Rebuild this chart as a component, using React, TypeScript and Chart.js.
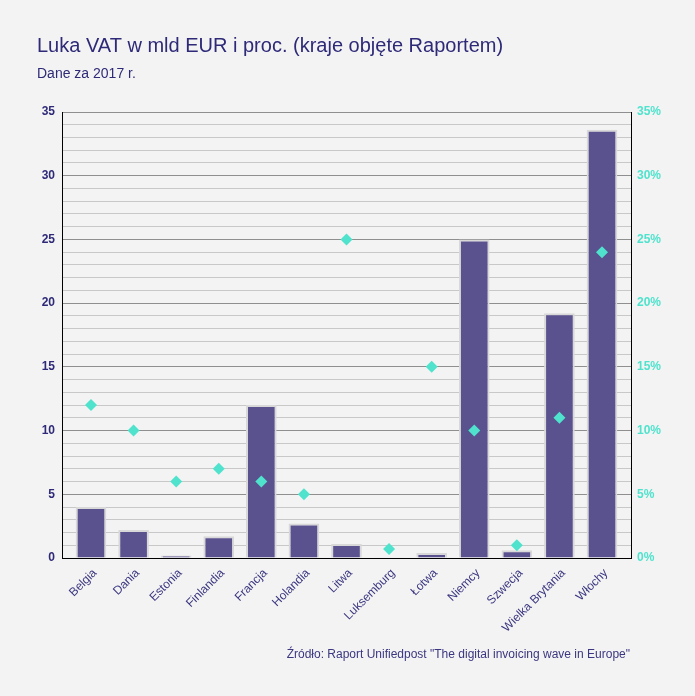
import React, { useEffect, useRef } from "react";
import { Chart, registerables } from "chart.js";

Chart.register(...registerables);

// Countries covered by the report
const countries = [
  "Belgia",
  "Dania",
  "Estonia",
  "Finlandia",
  "Francja",
  "Holandia",
  "Litwa",
  "Luksemburg",
  "Łotwa",
  "Niemcy",
  "Szwecja",
  "Wielka Brytania",
  "Włochy",
];

// VAT gap in billion EUR (2017)
const vatGapEur = [4.0, 2.2, 0.2, 1.7, 12.0, 2.7, 1.1, 0.05, 0.4, 25.0, 0.6, 19.2, 33.6];

// VAT gap as a percentage of expected VAT revenue
const vatGapPct = [12, 10, 6, 7, 6, 5, 25, 0.7, 15, 10, 1, 11, 24];

const TITLE = "Luka VAT w mld EUR i proc. (kraje objęte Raportem)";
const SUBTITLE = "Dane za 2017 r.";
const SOURCE = 'Źródło: Raport Unifiedpost "The digital invoicing wave in Europe"';

const NAVY = "#2e2a78";
const LABEL = "#3b3780";
const TURQUOISE = "#4fe3cd";
const BAR = "#5a518f";
const FONT = "'Liberation Sans', Arial, sans-serif";

// Inset of the category axis from both sides of the plot area
const X_INSET = 7.7;

const categoryInset = {
  id: "categoryInset",
  afterLayout(chart: any) {
    const x = chart.scales.x;
    if (!x) return;
    x._startPixel = x.left + X_INSET;
    x._endPixel = x.right - X_INSET;
    x._length = x._endPixel - x._startPixel;
  },
};

export default function App() {
  const canvasRef = useRef<HTMLCanvasElement | null>(null);

  useEffect(() => {
    const canvas = canvasRef.current;
    if (!canvas) return;

    const chart = new Chart(canvas, {
      type: "bar",
      data: {
        labels: countries,
        datasets: [
          {
            type: "line",
            label: "% luki VAT",
            data: vatGapPct,
            yAxisID: "y1",
            showLine: false,
            pointStyle: "rectRot",
            pointRadius: 6,
            pointBackgroundColor: TURQUOISE,
            pointBorderColor: TURQUOISE,
            pointBorderWidth: 0,
            order: 0,
          },
          {
            type: "bar",
            label: "Luka VAT (mld EUR)",
            data: vatGapEur,
            yAxisID: "y",
            backgroundColor: BAR,
            borderColor: "#d8d8d8",
            borderWidth: 2,
            order: 1,
          },
        ],
      },
      options: {
        responsive: false,
        animation: false,
        layout: { padding: { left: 37, right: 0, top: 0, bottom: 0 } },
        plugins: {
          legend: { display: false },
          tooltip: { enabled: false },
          title: {
            display: true,
            text: TITLE,
            align: "start",
            color: NAVY,
            font: { family: FONT, size: 20, weight: "normal" },
            padding: { top: 34, bottom: 0 },
          },
          subtitle: {
            display: true,
            text: SUBTITLE,
            align: "start",
            color: NAVY,
            font: { family: FONT, size: 14, weight: "normal" },
            padding: { top: 7.6, bottom: 29.6 },
          },
        },
        scales: {
          x: {
            grid: { display: false },
            border: { display: true, color: "#000", width: 1 },
            ticks: {
              color: LABEL,
              font: { family: FONT, size: 12 },
              minRotation: 45,
              maxRotation: 45,
              autoSkip: false,
              padding: 0,
              labelOffset: 4,
            },
            afterFit: (scale: any) => {
              scale.height = 138;
            },
          },
          y: {
            position: "left",
            min: 0,
            max: 35,
            border: { display: true, color: "#000", width: 1 },
            grid: {
              drawTicks: false,
              color: (ctx: any) =>
                ctx.tick && ctx.tick.value % 5 === 0 ? "#8f8f8f" : "#c8c8c8",
            },
            ticks: {
              stepSize: 1,
              autoSkip: false,
              padding: 7,
              color: NAVY,
              font: { family: FONT, size: 12, weight: "bold" },
              callback: (v: any) => (Number(v) % 5 === 0 ? String(v) : ""),
            },
            afterFit: (scale: any) => {
              scale.width = 25;
            },
          },
          y1: {
            position: "right",
            min: 0,
            max: 35,
            border: { display: true, color: "#000", width: 1 },
            grid: { drawOnChartArea: false, drawTicks: false },
            ticks: {
              stepSize: 5,
              padding: 6,
              color: TURQUOISE,
              font: { family: FONT, size: 12, weight: "bold" },
              callback: (v: any) => `${v}%`,
            },
            afterFit: (scale: any) => {
              scale.width = 64;
            },
          },
        },
      },
      plugins: [categoryInset],
    });

    return () => chart.destroy();
  }, []);

  return (
    <div
      style={{
        position: "fixed",
        left: 0,
        top: 0,
        width: 695,
        height: 696,
        background: "#f3f3f3",
        fontFamily: FONT,
      }}
    >
      <canvas ref={canvasRef} width={695} height={696} style={{ display: "block" }} />
      <div
        style={{
          position: "absolute",
          right: 65,
          top: 647,
          fontSize: 12,
          lineHeight: "14px",
          color: LABEL,
          whiteSpace: "nowrap",
        }}
      >
        {SOURCE}
      </div>
    </div>
  );
}
